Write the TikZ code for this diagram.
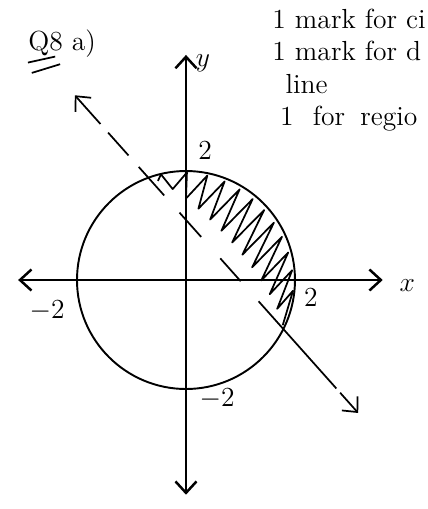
\documentclass[tikz,border=0pt]{standalone}
\usepackage{amsmath,amssymb}
\usepackage{tikz}
\usetikzlibrary{arrows.meta}
\tikzset{
    >={Straight Barb[length=6pt,width=11pt]}, % open hand-drawn style head
    axisline/.style={line width=1.3pt, draw=black, <->},
    boundary/.style={line width=1pt, draw=black},
    % irregular dashes, as drawn by hand
    cutline/.style={line width=0.9pt, draw=black, <->,
        dash pattern=on 19pt off 6pt on 16pt off 8pt on 20pt off 12pt on 17pt off 15pt on 16pt off 14pt on 61pt off 3pt on 17pt off 10pt},
    scribble/.style={line width=0.9pt, draw=black, line join=round},
    numlabel/.style={font=\Large, text=black, inner sep=1pt},
    notetext/.style={font=\Large, text=black, anchor=base west, inner sep=0pt}
}

\begin{document}
\begin{tikzpicture}[declare function={
    zu(\k)=-1.7+3.5*\k/24;
    zx(\k)=zu(\k)-0.2*mod(round(\k),2);
    zf(\k)=0.28+0.66*mod(round(\k),2);
    zy(\k)=0.736+zf(\k)*(sqrt(4-zx(\k)^2)-0.736);}]
        \useasboundingbox (-3.413,-4.202) rectangle (4.440,5.138);
  % Axes
  \coordinate (xl) at (-3.08,0);
  \coordinate (xr) at (3.61,0);
  \coordinate (yb) at (0,-3.94);
  \coordinate (yt) at (0,4.13);
  \draw[axisline] (xl) -- (xr);
  \draw[axisline] (yb) -- (yt);

  % Circle of radius 2
  \draw[boundary] (0,0) circle (2);

  % Dashed line crossing the circle
  \coordinate (dl1) at (-2.04,3.39);
  \coordinate (dl2) at (3.16,-2.44);
  \draw[cutline] (dl1) -- (dl2);

  % Region between the line and the circle (zigzag shading)
  \draw[scribble, rotate=-48.3]
    plot[domain=0:24, samples=25] ({zx(\x)}, {zy(\x)});

  % Axis labels and values
  \node[numlabel] (ylbl) at (0.31,3.98) {$y$};
  \node[numlabel] (xlbl) at (4.06,-0.11) {$x$};
  \node[numlabel] (ytop) at (0.35,2.37) {$2$};
  \node[numlabel] (xright) at (2.29,-0.33) {$2$};
  \node[numlabel] (xleft) at (-2.55,-0.57) {$-2$};
  \node[numlabel] (ybot) at (0.57,-2.17) {$-2$};

  % Question number, double underlined
  \node[notetext] (qnum) at (-2.90,4.22) {Q8 a)};
  \draw[line width=0.9pt] (-2.90,3.99) -- (-2.40,4.10);
  \draw[line width=0.9pt] (-2.83,3.80) -- (-2.31,3.96);

  % Marking notes
  \node[notetext] (mk1) at (1.58,4.62) {1 mark for ci};
  \node[notetext] (mk2) at (1.58,4.02) {1 mark for d};
  \node[notetext] (mk3) at (1.82,3.43) {line};
  \node[notetext] (mk4) at (1.72,2.84) {1\hspace{10pt}for\hspace{8pt}regio};

\end{tikzpicture}
\end{document}
